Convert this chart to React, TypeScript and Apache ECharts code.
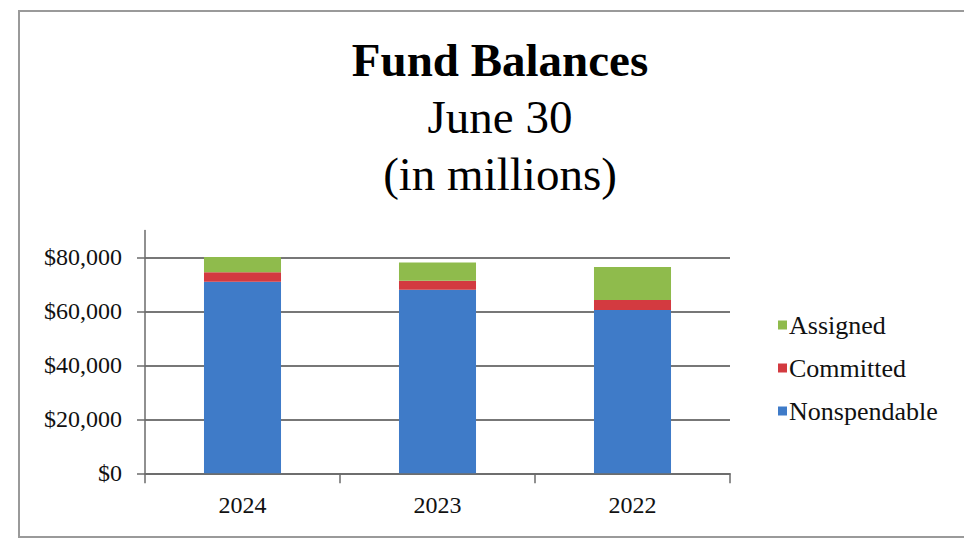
import React, { useEffect, useRef } from "react";
import * as echarts from "echarts";

const categories = ["2024", "2023", "2022"];
const nonspendable = [71000, 68000, 60500];
const committed = [3500, 3400, 3700];
const assigned = [5700, 6700, 12300];
const yTicks = [0, 20000, 40000, 60000, 80000];

const FONT = "'Liberation Serif', 'Times New Roman', serif";

export default function App() {
  const ref = useRef<HTMLDivElement>(null);
  useEffect(() => {
    if (!ref.current) return;
    const chart = echarts.init(ref.current, null, { renderer: "svg" });
    const fmt = (v: number) => "$" + v.toLocaleString("en-US");
    chart.setOption({
      animation: false,
      backgroundColor: "#ffffff",
      textStyle: { fontFamily: FONT },
      title: {
        text: "{a|Fund Balances}\n{b|June 30}\n{b|(in millions)}",
        left: 495,
        top: 26,
        textAlign: "center",
        textStyle: {
          fontFamily: FONT,
          fontWeight: "normal",
          lineHeight: 57,
          rich: {
            a: { fontFamily: FONT, fontSize: 47, fontWeight: "bold", color: "#000", lineHeight: 57 },
            b: { fontFamily: FONT, fontSize: 47, fontWeight: "normal", color: "#000", lineHeight: 57 },
          },
        },
      },
      graphic: [
        {
          type: "rect",
          shape: { x: 19, y: 11, width: 980, height: 526 },
          style: { fill: "none", stroke: "#9a9a9a", lineWidth: 2 },
          silent: true,
        },
      ],
      legend: {
        orient: "vertical",
        left: 773,
        top: 307,
        itemWidth: 9,
        itemHeight: 9,
        itemGap: 17,
        icon: "rect",
        data: ["Assigned", "Committed", "Nonspendable"],
        textStyle: { fontFamily: FONT, fontSize: 26, color: "#111", lineHeight: 26, padding: [0, 0, 0, -3] },
      },
      grid: { left: 145, right: 234, top: 230.5, bottom: 65.7, containLabel: false },
      xAxis: {
        type: "category",
        data: categories,
        boundaryGap: true,
        axisLine: { lineStyle: { color: "#6b6b6b", width: 1.5 } },
        axisTick: { show: true, alignWithLabel: false, length: 10, lineStyle: { color: "#6b6b6b", width: 1.5 } },
        axisLabel: { fontFamily: FONT, fontSize: 24, color: "#111", margin: 20 },
      },
      yAxis: {
        type: "value",
        min: 0,
        max: 90000,
        interval: 20000,
        axisLine: { show: true, lineStyle: { color: "#6b6b6b", width: 1.5 } },
        axisTick: { show: true, length: 8, customValues: yTicks, lineStyle: { color: "#6b6b6b", width: 1.5 } },
        axisLabel: {
          fontFamily: FONT,
          fontSize: 24,
          color: "#111",
          margin: 23,
          customValues: yTicks,
          formatter: (v: number) => fmt(v),
        },
        splitLine: { show: true, lineStyle: { color: "#4a4a4a", width: 1.5 } },
      },
      series: [
        {
          name: "Nonspendable",
          type: "bar",
          stack: "total",
          barWidth: "39.5%",
          data: nonspendable,
          itemStyle: { color: "#3f7bc8" },
        },
        {
          name: "Committed",
          type: "bar",
          stack: "total",
          data: committed,
          itemStyle: { color: "#d33a40" },
        },
        {
          name: "Assigned",
          type: "bar",
          stack: "total",
          data: assigned,
          itemStyle: { color: "#8fbb4c" },
        },
      ],
    });
    return () => chart.dispose();
  }, []);
  return (
    <div
      ref={ref}
      style={{ position: "fixed", left: 0, top: 0, width: 964, height: 539 }}
    />
  );
}
